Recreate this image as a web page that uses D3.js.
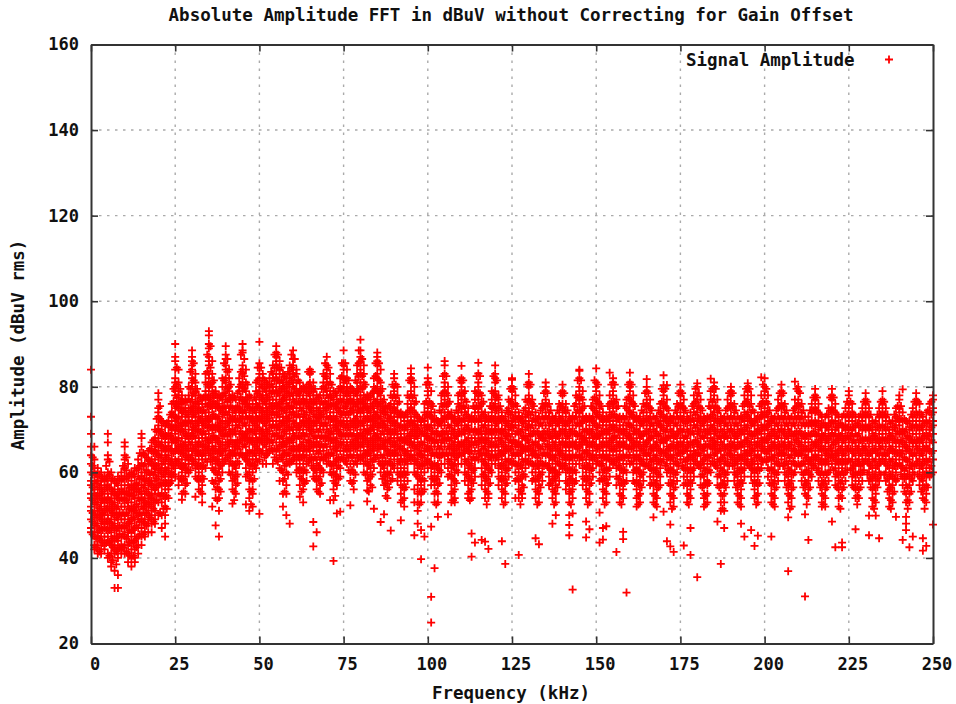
<!DOCTYPE html>
<html>
<head>
<meta charset="utf-8">
<script src="https://cdn.jsdelivr.net/npm/d3@7"></script>
<style>
body { margin: 0; background: #fff; }
text { font-family: "DejaVu Sans Mono", monospace; font-weight: bold; fill: #111; }
</style>
</head>
<body>
<div id="vis"></div>
<script>
const xTicks = [0, 25, 50, 75, 100, 125, 150, 175, 200, 225, 250];
const yTicks = [20, 40, 60, 80, 100, 120, 140, 160];

// each row: frequency (kHz), then the amplitudes (dBuV) read at that frequency
const band000 = [
[0,84,73,69,66,64,62,60,58,57,55,54,52,51,49,47,46],
[1,66,63,61,60,58,56,55,53,51,50,48,46,45,43,42],
[2,61,59,58,56,54,53,51,50,48,46,45,43,41],
[3,60,58,57,55,53,52,50,49,47,45,44,42,41],
[4,59,58,56,54,53,51,50,48,47,45,43,42],
[5,69,67,64,63,60,59,57,55,54,52,50,49,47,45,44,41,40],
[6,60,58,56,54,53,51,49,48,46,44,43,41,39,38],
[7,58,56,55,53,52,50,48,47,45,43,42,41,37,33],
[8,59,57,55,54,52,50,49,47,45,44,42,40,36,33],
[9,60,58,56,54,52,50,49,47,45,43,42,41],
[10,67,66,64,63,61,59,57,55,54,52,50,49,47,45,43,41],
[11,62,59,57,55,53,52,50,48,46,45,43,41,39],
[12,60,58,56,55,53,51,49,48,46,44,42,40,38],
[13,61,59,57,56,54,52,51,49,47,45,44,42,40,39],
[14,63,61,59,57,56,54,52,50,49,47,45,43,41],
[15,69,68,66,64,62,60,59,57,55,54,52,50,49,47,45,43],
[16,64,62,60,58,57,55,53,52,50,48,46,45],
[17,65,63,62,60,58,56,54,53,51,49,48,46],
[18,67,65,63,62,60,58,57,55,54,52,50,48,46],
[19,70,68,66,65,63,61,60,58,56,55,53,51,49,48],
[20,78.5,77,75,74,73,71,70,68,67,65,64,62,60,59,57,55,53,50],
[21,72,70,69,67,66,64,62,61,59,57,55,53,50,47],
[22,71,69,68,66,65,63,61,60,58,56,54,52,50,48,45],
[23,72,71,69,67,66,64,62,61,59,57,56,54],
[24,76,74,73,71,70,68,67,65,63,62,60,58]
];
const band025 = [
[25,90,87,86,84,82,81,80,79,78,76,75,73,72,70,69,67,65,63,61,59],
[26,84,81,79,78,76,75,73,71,70,68,66,65,63,62,59,57],
[27,78,77,76,74,73,71,70,68,66,65,63,61,60,58,55,53.6],
[28,77,75,74,72,71,69,67,66,64,62,61,59,57,55],
[29,80,78,77,75,73,72,70,68,67,65,63,62,60],
[30,88.5,87,86,85,84,82,81,80,78,77,75,74,72,70,69,67,65,64,62],
[31,83,81,79,78,76,74,73,71,70,68,66,65,63,61,59,54.3],
[32,78,76,75,73,72,70,68,67,65,64,62,60,58,56],
[33,77,76,74,72,71,69,68,66,64,63,61,59,57,55,53],
[34,83,81,79,78,76,74,73,71,69,68,66,65,63,61],
[35,93,92,90,89,87,86,85,83,82,80,79,77,76,74,72,71,69,67,66,64],
[36,86,83,81,80,78,76,75,73,71,70,68,66,65,63,61,58,52],
[37,79,78,76,75,73,71,70,68,67,65,63,62,60,58,56,54,47.6],
[38,78,76,75,73,71,70,68,66,65,63,61,60,58,56,54,51,45],
[39,82,80,78,77,75,74,72,70,69,67,65,64,62,60],
[40,89.5,87.5,86.5,85,84,82,81,80,78,77,75,74,72,70,69,67,65,63],
[41,84,82,80,79,77,75,74,72,71,69,67,66,64,62,60],
[42,78,77,75,73,72,70,69,67,65,64,62,60,58,56,52.7],
[43,77,75,74,72,71,69,67,66,64,62,61,59,57,55],
[44,82,80,79,77,75,74,72,71,69,67,66,64,62],
[45,90,88.5,88,85,84,83,81,80,79,77,76,74,73,71,69,68,66,64],
[46,84,81,79,77,76,74,73,71,69,68,66,64,63,61,59,52.5],
[47,78,76,75,73,71,70,68,67,65,63,62,60,58,56,54,51],
[48,76,75,73,72,70,68,67,65,63,62,60,58,56,55,52],
[49,81,79,77,76,74,73,71,69,68,66,64,63,61],
[50,90.5,85.5,84.5,83,82,80,79,78,76,75,73,72,70,68,67,65,63,50.3]
];
const band050 = [
[51,83,82,80,78,77,75,74,72,70,69,67,65,62],
[52,81,79,78,76,75,73,71,70,68,66,64,62],
[53,82,80,79,77,76,74,72,71,69,67,65],
[54,85,83,82,80,79,77,75,74,72,71,69,67,65,62],
[55,89.5,88,87,86,85,83,82,80,79,77,76,74,72,71,69,67,65,63],
[56,86,84,83,81,79,78,76,75,73,71,70,68,66,64,61,58],
[57,83,81,80,78,77,75,73,72,70,68,67,65,63,60,58,55,52],
[58,82,81,79,77,76,74,73,71,69,67,66,64,62,60,57,55,50],
[59,85,83,82,80,78,77,75,74,72,70,68,66,64,62,48],
[60,88.5,86.5,85,84,83,81,80,78,77,75,74,72,70,69,67,65,63],
[61,84,83,81,79,78,76,75,73,71,70,68,66,64,62,60],
[62,81,79,78,76,75,73,71,70,68,66,65,63,61,59,57,54.3],
[63,80,78,77,75,73,72,70,69,67,65,64,62,60,58,56,53],
[64,80,79,77,76,74,72,71,69,67,66,64,62,60,58],
[65,84,83,81,80,78,77,75,74,72,70,69,67,65,63],
[66,81,79,78,76,75,73,71,70,68,66,65,63,61,59,48.4,42.7],
[67,78,77,75,73,72,70,68,67,65,63,62,60,58,56,46],
[68,78,76,74,73,71,70,68,66,65,63,61,59,57,55],
[69,83,81,80,78,76,75,73,71,70,68,66,65,63,60],
[70,87,85,84,82,81,79,78,76,75,73,71,70,68,66,64,62],
[71,83,81,79,78,76,74,73,71,69,68,66,64,62,60,53.5],
[72,79,77,76,74,72,71,69,67,66,64,62,60,58,56,53.5,39.3],
[73,78,76,75,73,71,70,68,66,65,63,61,59,57,50.4],
[74,82,80,79,77,75,74,72,70,69,67,65,63,61,59,50.8],
[75,88.5,85.5,85,84,82,81,80,78,77,75,74,72,71,69,67,65,63]
];
const band075 = [
[76,84,82,80,79,77,76,74,72,71,69,67,66,64,62],
[77,80,78,77,75,74,72,70,69,67,65,64,62,60,58,52.3],
[78,79,77,76,74,72,71,69,67,66,64,62,60,58,56],
[79,85,83,81,79,78,76,74,73,71,69,68,66,64,62],
[80,91,88.5,87,86,84,83,81,80,78,77,75,74,72,70,69,67,65,63],
[81,85,83,81,80,78,76,75,73,71,70,68,66,64,62,60],
[82,78,77,75,74,72,70,69,67,65,64,62,60,58,55.8,53.2],
[83,78,76,74,73,71,70,68,66,64,63,61,59,57],
[84,82,80,79,77,75,74,72,70,69,67,65,63,61,51.5],
[85,88,87,86,85,83,82,80,79,77,76,74,73,71,69,68,66,64],
[86,84,81,79,78,76,74,73,71,69,68,66,64,62,60,48.4],
[87,77,75,74,72,71,69,67,66,64,62,61,59,57,50.2],
[88,75,74,72,70,69,67,65,64,62,60,58,56,54],
[89,78,76,74,73,71,69,68,66,64,62,60,58,46.4],
[90,83,82,80,79,78,76,75,73,72,70,68,67,65,63,61],
[91,80,78,76,74,73,71,69,68,66,64,62,60,58],
[92,74,73,71,69,68,66,64,63,61,59,57,55,53,48.8],
[93,73,72,70,68,67,65,63,61,60,58,56,54,52],
[94,78,76,74,72,71,69,67,65,64,62,60,58],
[95,84.3,83,82,81,79,78,76,75,73,72,70,68,67,65,63],
[96,80,78,76,74,72,71,69,67,66,64,62,60,56,53,45.3],
[97,73,71,70,68,66,64,63,61,59,57,55,53,51,48],
[98,72,71,69,67,65,64,62,60,58,57,55,53,46.5,39.7],
[99,76,74,72,71,69,67,65,64,62,60,58,56,45],
[100,84.5,82,81,79,78,76,75,73,71,70,68,66,65,63,61]
];
const band100 = [
[101,79,76,74,73,71,69,68,66,64,62,61,59,57,47.3,30.9,24.9],
[102,74,72,71,69,67,66,64,62,60,58,57,55,53,37.6],
[103,72,71,69,67,66,64,62,61,59,57,55,53,49.6],
[104,78,76,74,72,71,69,67,66,64,62,60],
[105,86,85,83,81,80,79,77,76,74,73,71,69,68,66,64,62],
[106,80,78,76,74,73,71,69,68,66,64,63,61,59,50.2],
[107,74,73,71,69,68,66,64,62,61,59,57,55,53],
[108,73,72,70,68,67,65,63,62,60,58,56,54,53],
[109,78,76,74,72,71,69,67,66,64,62,60],
[110,84.9,82,81,80,78,77,75,74,72,71,69,67,66,64,62],
[111,79,77,75,74,72,70,69,67,65,63,62,60,58],
[112,75,73,71,70,68,66,65,63,61,59,57,55,54],
[113,73,72,70,68,67,65,63,62,60,58,56,54,45.7,40.3],
[114,79,77,75,74,72,70,68,67,65,63,61,59,43.6],
[115,85.6,83.1,81,80,78,77,75,74,72,70,69,67,65,63],
[116,78,76,74,73,71,69,68,66,64,63,61,59,57,44.2],
[117,74,72,71,69,67,66,64,62,60,58,56,54,43.8],
[118,73,71,70,68,66,65,63,61,59,57,55,54,42.1],
[119,79,77,75,74,72,70,69,67,65,64,62,60],
[120,85,83,82,81,79,78,76,75,73,71,70,68,66,64,62],
[121,78,77,75,73,72,70,68,66,65,63,61,59,57],
[122,74,72,70,69,67,65,64,62,60,58,56,54,43.9],
[123,73,71,70,68,66,65,63,61,59,57,55,53,38.6],
[124,77,75,74,72,70,69,67,65,63,61,59],
[125,82,81.6,80,79,77,76,74,72,71,69,67,66,64,62]
];
const band125 = [
[126,78,76,74,73,71,69,67,66,64,62,60,58,54],
[127,74,73,71,69,67,66,64,62,60,58,56,54,40.7],
[128,73,72,70,68,66,65,63,61,59,57,55,54],
[129,77,75,73,72,70,68,66,65,63,61,59],
[130,83,81,80,78,77,75,74,72,71,69,67,66,64,62],
[131,77,76,74,72,71,69,67,65,64,62,60,58],
[132,74,72,71,69,67,65,64,62,60,58,56,54,44.6],
[133,73,71,69,68,66,64,62,61,59,57,55,53,43.2],
[134,76,75,73,71,69,68,66,64,62,60,58],
[135,81,80,79,77,76,74,73,71,69,68,66,64,62],
[136,76,74,73,71,69,68,66,64,62,61,59,57],
[137,73,72,70,68,67,65,63,61,60,58,56,54,48],
[138,73,71,69,68,66,64,62,60,59,57,55,53,50],
[139,76,74,72,71,69,67,65,64,62,60,58],
[140,80.5,79,78,76,75,73,72,70,68,67,65,63,61],
[141,76,74,72,71,69,67,66,64,62,60,58,56],
[142,73,72,70,68,66,65,63,61,59,57,55,53,50,47.7,45.3],
[143,73,71,69,67,66,64,62,60,58,56,54,50.4,32.6],
[144,78,76,74,73,71,69,67,66,64,62,60,58],
[145,84,83.7,82,80,79,77,76,74,73,71,69,67,66,64,62],
[146,79,77,75,73,72,70,68,67,65,63,61,59,57],
[147,73,72,70,68,67,65,63,61,60,58,56,54,48.5,44.8],
[148,73,71,69,68,66,64,62,61,59,57,55,53,46.7],
[149,77,75,73,72,70,68,67,65,63,61,59],
[150,84.3,81,80,79,77,76,74,73,71,69,68,66,64,62]
];
const band150 = [
[151,78,76,75,73,71,69,68,66,64,62,60,58,50.6,43.6],
[152,74,72,71,69,67,65,64,62,60,58,56,54,47,44.3],
[153,73,71,70,68,66,64,63,61,59,57,55,53,47.4],
[154,83.3,78,76,74,72,71,69,67,65,63,61,59],
[155,82,81,79,78,76,75,73,71,70,68,66,64,62],
[156,77,75,73,72,70,68,67,65,63,61,59,57,41.4],
[157,73,71,70,68,66,65,63,61,59,57,55,53],
[158,73,71,69,67,66,64,62,60,58,56,54,46.1,44.4],
[159,77,75,73,71,70,68,66,64,62,60,58,31.9],
[160,83.3,81,80,79,77,76,74,73,71,69,68,66,64,62],
[161,78,76,74,73,71,69,67,66,64,62,60,58],
[162,73,72,70,68,67,65,63,61,60,58,56,54,52],
[163,73,71,69,68,66,64,62,60,59,57,55,53],
[164,76,74,72,71,69,67,65,63,62,60,58],
[165,81.8,80,79,77,76,74,72,71,69,67,66,64,62],
[166,77,75,73,71,70,68,66,64,63,61,59,57],
[167,73,71,70,68,66,65,63,61,59,57,55,53,49.5],
[168,73,71,69,67,66,64,62,60,58,56,54,52],
[169,76,74,72,71,69,67,65,63,61,59,57],
[170,82.7,80.4,79,78,76,75,73,72,70,68,67,65,63,50.8],
[171,80.4,77,75,73,71,70,68,66,64,62,60,43.9],
[172,73,72,70,68,66,65,63,61,59,57,55,53,47.8,42.7],
[173,73,71,69,68,66,64,62,60,58,56,54,52,41.4],
[174,76,74,73,71,69,67,66,64,62,60,58],
[175,80.5,79,78,76,75,73,71,70,68,66,65,63]
];
const band175 = [
[176,77,75,74,72,70,68,67,65,63,61,59,57,42.9],
[177,73,72,70,68,66,65,63,61,59,57,55,53],
[178,74,72,71,69,67,65,64,62,60,58,56,54,47,40.7],
[179,78,76,74,72,71,69,67,65,63,61,59],
[180,80.8,80,78,77,75,74,72,71,69,67,66,64,62,35.5],
[181,77,75,73,71,70,68,66,64,62,61,59,57],
[182,73,72,70,68,66,65,63,61,59,57,55,54,52],
[183,73,71,69,68,66,64,62,60,58,57,55,53],
[184,81.9,79,77,75,73,71,70,68,66,64,62,60],
[185,81,80,78,77,75,74,72,71,69,67,66,64,62],
[186,77,75,74,72,70,68,67,65,63,61,59,57,48.5],
[187,73,72,70,68,67,65,63,61,59,57,55,53,51,38.6],
[188,73,71,69,68,66,64,62,60,58,57,55,53,51,47],
[189,77,75,73,71,70,68,66,64,62,60,58],
[190,80,79,78,76,75,73,71,70,68,66,65,63],
[191,76,74,73,71,69,67,66,64,62,60,58],
[192,73,71,70,68,66,64,63,61,59,57,55,53],
[193,73,71,69,67,66,64,62,60,58,56,54,52,48],
[194,78,76,74,72,70,69,67,65,63,61,59,45],
[195,80.8,80,79,77,76,74,73,71,69,68,66,64,62],
[196,78,76,74,72,71,69,67,65,63,61,59,46.5],
[197,74,72,71,69,67,65,64,62,60,58,56,54,42.8],
[198,73,71,70,68,66,64,62,61,59,57,55,53,45.2],
[199,82.2,78,76,74,73,71,69,67,65,63,61],
[200,82,80,79,78,76,75,73,71,70,68,66,65,63]
];
const band200 = [
[201,78,76,74,72,71,69,67,65,63,61,59],
[202,73,72,70,68,66,65,63,61,59,57,55,53,45],
[203,73,71,69,67,66,64,62,60,58,56,54,52],
[204,77,75,73,71,70,68,66,64,62,60,58],
[205,80.5,79,78,76,75,73,71,70,68,66,65,63],
[206,76,74,73,71,69,67,66,64,62,60,58],
[207,73,71,70,68,66,64,62,61,59,57,55,53,49.5,36.9],
[208,73,71,69,67,65,64,62,60,58,56,54,52],
[209,81.2,77,75,73,71,69,67,65,64,62,60],
[210,80,79,77,76,74,73,71,69,68,66,64,62],
[211,76,74,73,71,69,67,65,64,62,60,58],
[212,73,71,69,68,66,64,62,60,58,57,55,50.2,31],
[213,73,71,69,67,65,63,62,60,58,56,54,44.2],
[214,76,74,72,71,69,67,65,63,61,59],
[215,79.5,78,77,75,74,72,71,69,67,66,64,62],
[216,76,74,72,70,69,67,65,63,61,60,58],
[217,73,71,69,68,66,64,62,60,58,57,55,53,52],
[218,73,71,69,67,65,63,62,60,58,56,54,52],
[219,75,73,71,70,68,66,64,62,60,58],
[220,79.5,78,77,75,74,72,70,69,67,65,64,62,48.5],
[221,76,74,72,70,69,67,65,63,61,59,57,42.5],
[222,73,71,69,68,66,64,62,60,58,56,54,52],
[223,73,71,69,67,65,63,61,60,58,56,54,43.6,42.5],
[224,75,73,71,70,68,66,64,62,60,58],
[225,79,78,76,75,73,72,70,68,67,65,63]
];
const band225 = [
[226,76,74,72,70,69,67,65,63,61,59,57],
[227,73,71,69,67,66,64,62,60,58,56,54,46.7],
[228,73,71,69,67,65,63,62,60,58,56,54],
[229,75,73,72,70,68,66,64,62,60,58],
[230,78.5,77,76,74,73,71,70,68,66,65,63],
[231,75,73,71,70,68,66,64,62,60,58,49.9,45.3],
[232,72,70,69,67,65,63,61,59,58,56,54,52],
[233,72,70,68,67,65,63,61,59,57,55,53,49.9],
[234,75,73,71,69,67,66,64,62,60,58,44.6],
[235,79,77,76,74,73,71,69,68,66,64,63],
[236,75,73,72,70,68,66,64,62,60,58],
[237,72,70,69,67,65,63,61,59,57,56,54,52],
[238,72,70,68,66,65,63,61,59,57,55,53],
[239,75,73,71,69,67,65,63,62,60,58,49.6],
[240,78,77,75,74,72,71,69,67,66,64,62],
[241,79.4,74,72,70,69,67,65,63,61,59,57,44.2],
[242,72,70,68,66,65,63,61,59,57,55,53,49.6,48,46.5],
[243,72,70,68,67,65,63,61,59,57,55,53,42.5],
[244,75,73,71,69,67,66,64,62,60,58,45],
[245,78.5,77,76,74,72,71,69,67,66,64,62],
[246,76,74,72,70,68,67,65,63,61,59,57],
[247,73,71,69,67,66,64,62,60,58,56,54,44.6,41.7],
[248,74,72,70,68,66,65,63,61,59,57,55,53,42.8],
[249,76,74,72,70,69,67,65,63,61,59],
[250,78,77,75,74,72,71,69,67,65,63,60,47.8]
];
// denser readings between the whole-kHz rows, where the cloud is nearly solid
const coreLow = [
[0.5,63.5,61.5,59.5,56.5,53.5,50.5,48.5,45.5],
[1.5,59.5,57.5,54.5,52.5,49.5,47.5,44.5,42.5],
[2.5,59.5,56.5,54.5,51.5,49.5,46.5,44.5,41.5],
[3.5,58.5,55.5,53.5,50.5,48.5,46.5,43.5],
[4.5,61.5,58.5,56.5,53.5,51.5,48.5,46.5,43.5],
[5.5,62.5,59.5,56.5,53.5,51.5,48.5,46.5,43.5,40.5],
[6.5,58.5,55.5,52.5,50.5,47.5,44.5,42.5,39.5],
[7.5,57.5,54.5,51.5,49.5,46.5,44.5,41.5,38.5],
[8.5,58.5,55.5,53.5,50.5,47.5,45.5,42.5],
[9.5,61.5,58.5,55.5,53.5,50.5,47.5,45.5,42.5],
[10.5,63.5,60.5,58.5,55.5,53.5,50.5,47.5,44.5,41.5],
[11.5,59.5,56.5,54.5,51.5,48.5,46.5,43.5,40.5],
[12.5,59.5,56.5,54.5,51.5,49.5,46.5,43.5,40.5],
[13.5,60.5,57.5,55.5,52.5,50.5,47.5,44.5,42.5],
[14.5,64.5,61.5,58.5,55.5,53.5,50.5,48.5,45.5],
[15.5,64.5,61.5,58.5,56.5,53.5,51.5,48.5,45.5],
[16.5,63.5,60.5,58.5,55.5,52.5,50.5,47.5],
[17.5,65.5,62.5,59.5,57.5,54.5,52.5,49.5],
[18.5,67.5,64.5,61.5,59.5,56.5,53.5,51.5,48.5],
[19.5,72.5,69.5,66.5,64.5,61.5,58.5,56.5,53.5],
[20.5,75.5,72.5,69.5,66.5,63.5,60.5,57.5,54.5,50.5],
[21.5,71.5,68.5,65.5,62.5,59.5,57.5,54.5,51.5],
[22.5,71.5,68.5,65.5,63.5,60.5,57.5,54.5,51.5],
[23.5,73.5,70.5,68.5,65.5,62.5,59.5,57.5],
[24.5,79.5,76.5,73.5,70.5,67.5,64.5,61.5,59.5]
];
const coreMid = [
[25.5,84.5,80.5,77.5,75.5,72.5,70.5,67.5,65.5,62.5],
[26.5,79.5,76.5,74.5,71.5,69.5,66.5,64.5,61.5,58.5],
[27.5,76.5,74.5,71.5,69.5,66.5,64.5,61.5,58.5,55.5],
[28.5,76.5,73.5,71.5,68.5,65.5,63.5,60.5,57.5],
[29.5,83.5,79.5,76.5,74.5,71.5,68.5,66.5,63.5,60.5],
[30.5,85.5,81.5,78.5,75.5,73.5,70.5,68.5,65.5,62.5],
[31.5,79.5,76.5,74.5,71.5,69.5,66.5,64.5,61.5,58.5],
[32.5,77.5,74.5,72.5,69.5,66.5,64.5,61.5,58.5,55.5],
[33.5,77.5,74.5,71.5,69.5,66.5,64.5,61.5,58.5],
[34.5,87.5,83.5,80.5,77.5,75.5,72.5,70.5,67.5,65.5,62.5],
[35.5,89.5,84.5,80.5,77.5,75.5,72.5,70.5,67.5,64.5,62.5],
[36.5,81.5,78.5,76.5,73.5,70.5,68.5,65.5,63.5,60.5,57.5],
[37.5,77.5,75.5,72.5,70.5,67.5,64.5,62.5,59.5,56.5,53.5],
[38.5,77.5,74.5,71.5,69.5,66.5,64.5,61.5,58.5,55.5],
[39.5,85.5,81.5,78.5,75.5,73.5,70.5,68.5,65.5,62.5],
[40.5,86.5,83.5,79.5,76.5,73.5,71.5,68.5,66.5,63.5],
[41.5,80.5,77.5,75.5,72.5,69.5,67.5,64.5,62.5,59.5],
[42.5,77.5,74.5,72.5,69.5,66.5,64.5,61.5,58.5,55.5,53.5],
[43.5,78.5,75.5,72.5,70.5,67.5,65.5,62.5,59.5,57.5],
[44.5,87.5,83.5,80.5,77.5,74.5,72.5,69.5,67.5,64.5],
[45.5,86.5,82.5,79.5,76.5,74.5,71.5,68.5,66.5,63.5],
[46.5,80.5,77.5,75.5,72.5,69.5,67.5,64.5,62.5,59.5],
[47.5,77.5,74.5,72.5,69.5,67.5,64.5,61.5,58.5,55.5,52.5],
[48.5,77.5,74.5,71.5,69.5,66.5,64.5,61.5,58.5],
[49.5,84.5,81.5,78.5,75.5,72.5,70.5,67.5,65.5,62.5],
[50.5,84.5,80.5,77.5,74.5,72.5,69.5,67.5,64.5],
[51.5,81.5,79.5,76.5,73.5,71.5,68.5,66.5,63.5],
[52.5,80.5,77.5,74.5,72.5,69.5,67.5,64.5],
[53.5,83.5,80.5,78.5,75.5,73.5,70.5,67.5,65.5],
[54.5,87.5,84.5,81.5,78.5,75.5,73.5,70.5,68.5,65.5,63.5],
[55.5,87.5,84.5,81.5,78.5,75.5,73.5,70.5,68.5,65.5,62.5],
[56.5,84.5,81.5,79.5,76.5,74.5,71.5,68.5,66.5,63.5,60.5],
[57.5,82.5,79.5,77.5,74.5,71.5,69.5,66.5,64.5,61.5,58.5,55.5],
[58.5,83.5,80.5,78.5,75.5,72.5,70.5,67.5,64.5,62.5,59.5],
[59.5,87.5,84.5,81.5,78.5,75.5,73.5,70.5,67.5,65.5,62.5],
[60.5,86.5,82.5,79.5,76.5,73.5,71.5,68.5,65.5,63.5],
[61.5,81.5,78.5,76.5,73.5,70.5,68.5,65.5,63.5,60.5],
[62.5,79.5,76.5,74.5,71.5,68.5,66.5,63.5,60.5,58.5,55.5],
[63.5,79.5,76.5,73.5,71.5,68.5,65.5,63.5,60.5,57.5],
[64.5,83.5,80.5,78.5,75.5,72.5,70.5,67.5,65.5,62.5],
[65.5,83.5,79.5,76.5,74.5,71.5,69.5,66.5,63.5,61.5],
[66.5,79.5,76.5,73.5,71.5,68.5,66.5,63.5,60.5,58.5],
[67.5,77.5,74.5,72.5,69.5,66.5,64.5,61.5,58.5,55.5],
[68.5,79.5,76.5,73.5,71.5,68.5,66.5,63.5,60.5,57.5],
[69.5,85.5,82.5,79.5,76.5,74.5,71.5,68.5,66.5,63.5],
[70.5,84.5,80.5,77.5,75.5,72.5,69.5,67.5,64.5,62.5],
[71.5,80.5,77.5,75.5,72.5,69.5,67.5,64.5,61.5,59.5],
[72.5,78.5,75.5,72.5,70.5,67.5,65.5,62.5,59.5,57.5,54.5],
[73.5,79.5,76.5,74.5,71.5,69.5,66.5,63.5,61.5,58.5],
[74.5,85.5,82.5,79.5,76.5,73.5,71.5,68.5,66.5,63.5],
[75.5,85.5,81.5,78.5,75.5,73.5,70.5,68.5,65.5,62.5],
[76.5,81.5,78.5,76.5,73.5,70.5,68.5,65.5,63.5,60.5],
[77.5,79.5,76.5,74.5,71.5,68.5,66.5,63.5,60.5,57.5],
[78.5,81.5,78.5,75.5,72.5,70.5,67.5,65.5,62.5,59.5],
[79.5,88.5,85.5,82.5,79.5,76.5,74.5,71.5,68.5,66.5,63.5],
[80.5,86.5,82.5,79.5,76.5,74.5,71.5,68.5,66.5,63.5],
[81.5,80.5,77.5,75.5,72.5,69.5,67.5,64.5,62.5,59.5],
[82.5,77.5,74.5,72.5,69.5,66.5,64.5,61.5,58.5,55.5],
[83.5,78.5,75.5,72.5,70.5,67.5,65.5,62.5,59.5,56.5],
[84.5,85.5,82.5,79.5,76.5,73.5,71.5,68.5,66.5,63.5],
[85.5,85.5,81.5,78.5,75.5,72.5,70.5,67.5,65.5,62.5],
[86.5,79.5,76.5,74.5,71.5,69.5,66.5,63.5,61.5,58.5],
[87.5,75.5,73.5,70.5,67.5,65.5,62.5,59.5,57.5,54.5],
[88.5,75.5,72.5,69.5,67.5,64.5,62.5,59.5,56.5],
[89.5,80.5,77.5,74.5,71.5,69.5,66.5,64.5,61.5,58.5]
];
const coreHigh = [
[90.5,80.5,77.5,74.5,71.5,69.5,66.5,64.5],[91.5,76.5,73.5,70.5,67.5,65.5,62.5,59.5],[92.5,73.5,70.5,67.5,65.5,62.5,59.5,56.5,53.5],[93.5,73.5,70.5,67.5,64.5,62.5,59.5,56.5],[94.5,81.5,77.5,74.5,71.5,68.5,66.5,63.5],
[95.5,81.5,77.5,74.5,71.5,69.5,66.5,63.5],[96.5,76.5,73.5,70.5,68.5,65.5,62.5,59.5],[97.5,72.5,69.5,66.5,64.5,61.5,58.5,55.5,52.5],[98.5,72.5,69.5,66.5,63.5,61.5,58.5,55.5],[99.5,80.5,76.5,73.5,70.5,68.5,65.5,62.5],
[100.5,80.5,76.5,73.5,70.5,67.5,65.5,62.5],[101.5,75.5,72.5,69.5,67.5,64.5,61.5,58.5],[102.5,72.5,69.5,67.5,64.5,61.5,58.5,55.5,52.5],[103.5,74.5,71.5,68.5,65.5,63.5,60.5,57.5],[104.5,82.5,78.5,75.5,72.5,69.5,67.5,64.5],
[105.5,82.5,78.5,75.5,72.5,69.5,67.5,64.5],[106.5,76.5,73.5,70.5,67.5,65.5,62.5,59.5],[107.5,72.5,69.5,66.5,64.5,61.5,58.5,55.5,53.5],[108.5,74.5,71.5,68.5,65.5,63.5,60.5,57.5],[109.5,81.5,78.5,75.5,72.5,69.5,66.5,64.5],
[110.5,81.5,78.5,75.5,72.5,69.5,66.5,64.5],[111.5,76.5,73.5,70.5,67.5,65.5,62.5,59.5],[112.5,72.5,69.5,66.5,64.5,61.5,58.5,55.5,53.5],[113.5,75.5,72.5,69.5,66.5,63.5,60.5,57.5],[114.5,82.5,78.5,75.5,72.5,69.5,66.5,63.5],
[115.5,82.5,78.5,75.5,72.5,69.5,67.5,64.5],[116.5,76.5,73.5,70.5,67.5,65.5,62.5,59.5],[117.5,72.5,69.5,67.5,64.5,61.5,58.5,55.5,52.5],[118.5,75.5,72.5,69.5,66.5,63.5,60.5,57.5],[119.5,82.5,78.5,75.5,72.5,69.5,66.5,63.5],
[120.5,81.5,77.5,74.5,71.5,69.5,66.5,63.5],[121.5,75.5,72.5,69.5,67.5,64.5,61.5,58.5],[122.5,72.5,69.5,66.5,64.5,61.5,58.5,55.5,52.5],[123.5,74.5,71.5,68.5,65.5,62.5,60.5,57.5],[124.5,79.5,76.5,73.5,70.5,67.5,65.5,62.5],
[125.5,79.5,75.5,72.5,70.5,67.5,64.5,62.5],[126.5,75.5,72.5,69.5,66.5,64.5,61.5,58.5],[127.5,72.5,69.5,66.5,64.5,61.5,58.5,55.5,52.5],[128.5,74.5,71.5,68.5,65.5,62.5,59.5,56.5],[129.5,80.5,76.5,73.5,70.5,67.5,65.5,62.5],
[130.5,80.5,76.5,73.5,70.5,68.5,65.5,62.5],[131.5,75.5,72.5,69.5,66.5,64.5,61.5,58.5],[132.5,72.5,69.5,66.5,63.5,61.5,58.5,55.5,52.5],[133.5,74.5,71.5,68.5,65.5,62.5,59.5,56.5],[134.5,78.5,75.5,72.5,69.5,67.5,64.5,61.5],
[135.5,78.5,75.5,72.5,69.5,66.5,64.5,61.5],[136.5,74.5,71.5,68.5,65.5,63.5,60.5,57.5],[137.5,72.5,69.5,66.5,63.5,60.5,58.5,55.5,52.5],[138.5,74.5,71.5,68.5,65.5,62.5,59.5,56.5],[139.5,78.5,75.5,72.5,69.5,66.5,64.5,61.5],
[140.5,78.5,74.5,71.5,69.5,66.5,63.5,61.5],[141.5,74.5,71.5,68.5,66.5,63.5,60.5,57.5],[142.5,72.5,69.5,66.5,63.5,60.5,58.5,55.5,52.5],[143.5,75.5,72.5,69.5,66.5,63.5,60.5,57.5],[144.5,81.5,77.5,74.5,71.5,68.5,65.5,63.5],
[145.5,81.5,77.5,74.5,71.5,68.5,66.5,63.5],[146.5,75.5,72.5,69.5,67.5,64.5,61.5,58.5],[147.5,72.5,69.5,66.5,64.5,61.5,58.5,55.5,52.5],[148.5,75.5,72.5,69.5,66.5,63.5,60.5,57.5],[149.5,81.5,77.5,74.5,71.5,68.5,66.5,63.5],
[150.5,80.5,76.5,73.5,70.5,68.5,65.5,62.5],[151.5,75.5,72.5,69.5,66.5,63.5,61.5,58.5],[152.5,72.5,69.5,66.5,63.5,60.5,58.5,55.5,52.5],[153.5,75.5,72.5,69.5,66.5,63.5,60.5,57.5],[154.5,80.5,76.5,73.5,70.5,67.5,65.5,62.5],
[155.5,80.5,76.5,73.5,70.5,68.5,65.5,62.5],[156.5,75.5,72.5,69.5,66.5,63.5,61.5,58.5],[157.5,72.5,69.5,66.5,63.5,60.5,57.5,54.5,52.5],[158.5,75.5,72.5,69.5,66.5,63.5,60.5,57.5],[159.5,80.5,77.5,74.5,71.5,68.5,65.5,63.5],
[160.5,80.5,76.5,73.5,70.5,67.5,65.5,62.5],[161.5,75.5,72.5,69.5,66.5,63.5,60.5,57.5],[162.5,72.5,69.5,66.5,63.5,60.5,57.5,54.5,52.5],[163.5,74.5,71.5,68.5,65.5,62.5,59.5,56.5],[164.5,78.5,75.5,72.5,69.5,66.5,64.5,61.5],
[165.5,78.5,75.5,72.5,69.5,67.5,64.5,61.5],[166.5,74.5,71.5,68.5,65.5,62.5,60.5,57.5],[167.5,72.5,69.5,66.5,63.5,60.5,57.5,54.5,52.5],[168.5,74.5,71.5,68.5,65.5,62.5,59.5,56.5],[169.5,79.5,76.5,73.5,70.5,67.5,64.5,62.5],
[170.5,79.5,75.5,72.5,69.5,67.5,64.5,61.5],[171.5,74.5,71.5,68.5,65.5,63.5,60.5,57.5],[172.5,72.5,69.5,66.5,63.5,60.5,57.5,54.5,51.5],[173.5,74.5,71.5,68.5,65.5,62.5,59.5,56.5],[174.5,78.5,75.5,72.5,69.5,66.5,64.5,61.5],
[175.5,78.5,75.5,72.5,69.5,66.5,64.5,61.5],[176.5,74.5,71.5,68.5,65.5,62.5,60.5,57.5],[177.5,72.5,69.5,66.5,63.5,60.5,57.5,54.5,52.5],[178.5,75.5,72.5,69.5,66.5,63.5,60.5,57.5],[179.5,79.5,76.5,73.5,70.5,67.5,64.5,62.5],
[180.5,78.5,75.5,72.5,69.5,66.5,64.5,61.5],[181.5,74.5,71.5,68.5,65.5,62.5,59.5,56.5],[182.5,72.5,69.5,66.5,63.5,60.5,57.5,54.5,52.5],[183.5,75.5,72.5,69.5,66.5,63.5,60.5,57.5],[184.5,79.5,76.5,73.5,70.5,67.5,65.5,62.5],
[185.5,79.5,75.5,72.5,69.5,66.5,64.5,61.5],[186.5,74.5,71.5,68.5,65.5,62.5,59.5,56.5],[187.5,72.5,69.5,66.5,63.5,60.5,57.5,54.5,51.5],[188.5,74.5,71.5,68.5,65.5,62.5,59.5,56.5],[189.5,78.5,75.5,72.5,69.5,66.5,64.5,61.5],
[190.5,78.5,75.5,72.5,69.5,66.5,63.5,61.5],[191.5,74.5,71.5,68.5,65.5,62.5,59.5,56.5],[192.5,72.5,69.5,66.5,63.5,60.5,57.5,54.5,52.5],[193.5,75.5,72.5,69.5,66.5,63.5,60.5,57.5],[194.5,79.5,76.5,73.5,70.5,67.5,64.5,62.5],
[195.5,79.5,75.5,72.5,69.5,66.5,64.5,61.5],[196.5,74.5,71.5,68.5,65.5,62.5,60.5,57.5],[197.5,72.5,69.5,66.5,63.5,60.5,57.5,54.5,52.5],[198.5,75.5,72.5,69.5,66.5,63.5,60.5,57.5],[199.5,80.5,76.5,73.5,70.5,67.5,65.5,62.5],
[200.5,79.5,76.5,73.5,70.5,67.5,64.5,62.5],[201.5,74.5,71.5,68.5,65.5,63.5,60.5,57.5],[202.5,72.5,69.5,66.5,63.5,60.5,57.5,54.5,52.5],[203.5,74.5,71.5,68.5,65.5,62.5,59.5,56.5],[204.5,78.5,75.5,72.5,69.5,66.5,64.5,61.5],
[205.5,78.5,75.5,72.5,69.5,66.5,64.5,61.5],[206.5,74.5,71.5,68.5,65.5,62.5,59.5,56.5],[207.5,72.5,69.5,66.5,63.5,60.5,57.5,54.5,51.5],[208.5,74.5,71.5,68.5,65.5,62.5,59.5,56.5],[209.5,79.5,75.5,72.5,69.5,67.5,64.5,61.5],
[210.5,78.5,75.5,72.5,69.5,66.5,64.5,61.5],[211.5,74.5,71.5,68.5,65.5,62.5,59.5,56.5],[212.5,71.5,68.5,65.5,63.5,60.5,57.5,54.5,52.5],[213.5,74.5,71.5,68.5,65.5,62.5,59.5,56.5],[214.5,77.5,74.5,71.5,69.5,66.5,63.5,61.5],
[215.5,77.5,74.5,71.5,68.5,66.5,63.5,60.5],[216.5,73.5,70.5,67.5,65.5,62.5,59.5,56.5],[217.5,71.5,68.5,65.5,62.5,59.5,57.5,54.5,52.5],[218.5,73.5,70.5,67.5,64.5,62.5,59.5,56.5],[219.5,77.5,74.5,71.5,68.5,65.5,63.5,60.5],
[220.5,77.5,74.5,71.5,68.5,66.5,63.5,60.5],[221.5,73.5,70.5,67.5,64.5,62.5,59.5,56.5],[222.5,71.5,68.5,65.5,62.5,59.5,57.5,54.5,51.5],[223.5,73.5,70.5,67.5,64.5,62.5,59.5,56.5],[224.5,76.5,73.5,70.5,68.5,65.5,62.5,60.5],
[225.5,76.5,73.5,70.5,68.5,65.5,62.5,60.5],[226.5,73.5,70.5,67.5,64.5,61.5,59.5,56.5],[227.5,71.5,68.5,65.5,62.5,59.5,56.5,54.5,52.5],[228.5,73.5,70.5,67.5,64.5,61.5,59.5,56.5],[229.5,76.5,73.5,70.5,67.5,65.5,62.5,60.5],
[230.5,76.5,73.5,70.5,67.5,64.5,62.5,59.5],[231.5,73.5,70.5,67.5,64.5,61.5,58.5,56.5],[232.5,71.5,68.5,65.5,62.5,59.5,56.5,53.5,51.5],[233.5,73.5,70.5,67.5,64.5,61.5,58.5,56.5],[234.5,76.5,73.5,70.5,67.5,65.5,62.5,59.5],
[235.5,76.5,73.5,70.5,67.5,64.5,62.5,59.5],[236.5,73.5,70.5,67.5,64.5,61.5,58.5,55.5],[237.5,71.5,68.5,65.5,62.5,59.5,56.5,53.5,51.5],[238.5,73.5,70.5,67.5,64.5,61.5,58.5,55.5],[239.5,75.5,72.5,69.5,67.5,64.5,61.5,58.5],
[240.5,75.5,72.5,69.5,67.5,64.5,61.5,59.5],[241.5,72.5,69.5,66.5,63.5,60.5,58.5,55.5],[242.5,71.5,68.5,65.5,62.5,59.5,56.5,53.5,51.5],[243.5,73.5,70.5,67.5,64.5,61.5,58.5,55.5],[244.5,76.5,73.5,70.5,67.5,64.5,61.5,59.5],
[245.5,76.5,73.5,70.5,67.5,65.5,62.5,59.5],[246.5,73.5,70.5,67.5,64.5,61.5,58.5,55.5],[247.5,71.5,68.5,65.5,62.5,59.5,56.5,53.5,51.5],[248.5,74.5,71.5,68.5,65.5,62.5,59.5,56.5],[249.5,76.5,73.5,70.5,67.5,64.5,61.5,59.5]
];
const bands = [band000, band025, band050, band075, band100, band125, band150, band175, band200, band225, coreLow, coreMid, coreHigh];

const width = 956;
const height = 704;
const margin = { top: 44.5, right: 23, bottom: 60.5, left: 91 };

let svg = d3.select("#vis")
    .append("svg")
    .attr("width", width)
    .attr("height", height)
    .style("display", "block");

//scales
const xScale = d3.scaleLinear().domain([0, 250]).range([margin.left, width - margin.right]);
const yScale = d3.scaleLinear().domain([20, 160]).range([height - margin.bottom, margin.top]);

//grid
svg.append("g").selectAll("line").data(xTicks.slice(1, -1)).join("line")
    .attr("x1", d => xScale(d)).attr("x2", d => xScale(d))
    .attr("y1", margin.top).attr("y2", height - margin.bottom)
    .attr("stroke", "#aaa").attr("stroke-width", 1.4).attr("stroke-dasharray", "2.5,5.5");
svg.append("g").selectAll("line").data(yTicks.slice(1, -1)).join("line")
    .attr("x1", margin.left).attr("x2", width - margin.right)
    .attr("y1", d => yScale(d)).attr("y2", d => yScale(d))
    .attr("stroke", "#aaa").attr("stroke-width", 1.4).attr("stroke-dasharray", "2.5,5.5");

//points
const plusPath = "M-4,0H4M0,-4V4";
const points = [];
bands.forEach(band => band.forEach(row => {
    row.slice(1).forEach(a => points.push([row[0], a]));
}));
svg.append("g").selectAll("path").data(points).join("path")
    .attr("d", plusPath)
    .attr("transform", d => "translate(" + xScale(d[0]) + "," + yScale(d[1]) + ")")
    .attr("fill", "none")
    .attr("stroke", "#ff0000")
    .attr("stroke-width", 1.8);

//axes, ticks point inward on all four sides
const fmtAxis = g => {
    g.selectAll(".domain").attr("stroke", "#333").attr("stroke-width", 2);
    g.selectAll(".tick line").attr("stroke", "#333").attr("stroke-width", 1.6);
    g.selectAll("text").style("font-size", "17px");
};
svg.append("g").attr("transform", "translate(0," + (height - margin.bottom) + ")")
    .call(d3.axisBottom(xScale).tickValues(xTicks).tickSizeInner(-7).tickSizeOuter(0).tickPadding(14))
    .call(fmtAxis)
    .selectAll("text").attr("dx", "3.5px");
svg.append("g").attr("transform", "translate(0," + margin.top + ")")
    .call(d3.axisTop(xScale).tickValues(xTicks).tickSizeInner(-7).tickSizeOuter(0).tickFormat(""))
    .call(fmtAxis);
svg.append("g").attr("transform", "translate(" + margin.left + ",0)")
    .call(d3.axisLeft(yScale).tickValues(yTicks).tickSizeInner(-7).tickSizeOuter(0).tickPadding(12))
    .call(fmtAxis);
svg.append("g").attr("transform", "translate(" + (width - margin.right) + ",0)")
    .call(d3.axisRight(yScale).tickValues(yTicks).tickSizeInner(-7).tickSizeOuter(0).tickFormat(""))
    .call(fmtAxis);

//titles
svg.append("text").attr("x", 511).attr("y", 21).attr("text-anchor", "middle")
    .style("font-size", "17.5px")
    .text("Absolute Amplitude FFT in dBuV without Correcting for Gain Offset");
svg.append("text").attr("x", 511).attr("y", 699).attr("text-anchor", "middle")
    .style("font-size", "17.5px")
    .text("Frequency (kHz)");
svg.append("text").attr("transform", "translate(24,345) rotate(-90)").attr("text-anchor", "middle")
    .style("font-size", "17.5px")
    .text("Amplitude (dBuV rms)");

//legend
svg.append("text").attr("x", 686).attr("y", 66)
    .style("font-size", "17.5px")
    .text("Signal Amplitude");
svg.append("path").attr("d", plusPath)
    .attr("transform", "translate(889,59.5)")
    .attr("fill", "none").attr("stroke", "#ff0000").attr("stroke-width", 1.8);
</script>
</body>
</html>
